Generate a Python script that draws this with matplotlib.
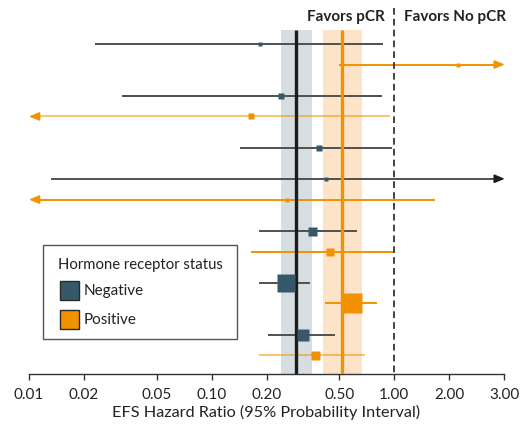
import numpy as np
import matplotlib
matplotlib.use('Agg')
import matplotlib.pyplot as plt
from matplotlib.patches import Rectangle

plt.rcParams['font.family'] = ['Lato', 'DejaVu Sans']

# ---------------- data ----------------
status = ['Negative', 'Positive', 'Negative', 'Positive', 'Negative', 'Negative', 'Positive',
          'Negative', 'Positive', 'Negative', 'Positive', 'Negative', 'Positive']
hr = [0.184, 2.24, 0.240, 0.164, 0.387, 0.423, 0.260, 0.356, 0.443, 0.255, 0.589, 0.315, 0.369]
# nan = interval extends beyond the plotted range (drawn as arrow)
ci_low = [0.0230, 0.498, 0.0323, np.nan, 0.143, 0.0132, np.nan, 0.182, 0.164, 0.182, 0.418, 0.204, 0.182]
ci_high = [0.867, np.nan, 0.856, 0.947, 0.968, np.nan, 1.67, 0.627, 0.987, 0.346, 0.807, 0.473, 0.691]
pooled_negative = [0.289, 0.240, 0.357]   # estimate, low, high
pooled_positive = [0.519, 0.409, 0.663]
xtick_values = [0.01, 0.02, 0.05, 0.10, 0.20, 0.50, 1.00, 2.00, 4.00]
xtick_labels = ['0.01', '0.02', '0.05', '0.10', '0.20', '0.50', '1.00', '2.00', '3.00']

# ---------------- layout / style ----------------
row_slot = [0, 2, 5, 7, 10, 13, 15, 18, 20, 23, 25, 28, 30]
marker_px = [4, 5, 6, 6, 6, 4, 5, 9, 8, 18, 20, 12, 9]
faded = [False, False, False, True, False, False, False, False, False, False, False, False, True]

NEG_MARK = '#35596a'
NEG_LINE = '#505050'
ORANGE = '#f39200'
GREY_BAND = '#d6dee1'
ORANGE_BAND = '#fde4c8'

W, H = 520, 424
fig = plt.figure(figsize=(W / 100, H / 100), dpi=100)
ax = fig.add_axes([29 / W, 1 - 374 / H, 475 / W, (374 - 8) / H])
ax.set_xscale('log')
XMIN, XMAX = 0.01, 4.0
YTOP, YBOT = -3.44, 31.79
ax.set_xlim(XMIN, XMAX)
ax.set_ylim(YBOT, YTOP)

band_top = -1.32
# pooled bands and lines
for (est, lo, hi), band_c, line_c in [(pooled_negative, GREY_BAND, '#1c1c1c'),
                                      (pooled_positive, ORANGE_BAND, ORANGE)]:
    ax.fill_betweenx([band_top, YBOT], lo, hi, color=band_c, lw=0, zorder=1)
    ax.plot([est, est], [band_top, YBOT], color=line_c, lw=2.4, zorder=3, solid_capstyle='butt')

# null line
ax.plot([1, 1], [YTOP, YBOT], color='#222222', lw=1.2, ls=(0, (4, 2.5)), zorder=3, clip_on=False)

ARROW = '-|>,head_length=0.6,head_width=0.25'
# study rows
for s, est, lo, hi, slot, mpx, fd in zip(status, hr, ci_low, ci_high, row_slot, marker_px, faded):
    if s == 'Negative':
        lc, mc, ac = NEG_LINE, NEG_MARK, '#1c1c1c'
    else:
        lc, mc, ac = ORANGE, ORANGE, ORANGE
    alpha = 0.55 if fd else 1.0
    lo_end = XMIN * 1.05 if np.isnan(lo) else lo
    hi_end = XMAX / 1.05 if np.isnan(hi) else hi
    ax.plot([lo_end, hi_end], [slot, slot], color=lc, lw=1.4, alpha=alpha, zorder=2,
            solid_capstyle='butt')
    if np.isnan(lo):
        ax.annotate('', xy=(XMIN, slot), xytext=(XMIN * 1.12, slot),
                    arrowprops=dict(arrowstyle=ARROW, color=ac, lw=1.2, shrinkA=0, shrinkB=0),
                    annotation_clip=False, zorder=2)
    if np.isnan(hi):
        ax.annotate('', xy=(XMAX * 1.01, slot), xytext=(XMAX / 1.12, slot),
                    arrowprops=dict(arrowstyle=ARROW, color=ac, lw=1.2, shrinkA=0, shrinkB=0),
                    annotation_clip=False, zorder=2)
    ax.plot([est], [slot], marker='s', ms=mpx * 0.72, color=mc, mec='none', zorder=4,
            linestyle='none')

# favors labels
ax.annotate('Favors pCR', xy=(1.0, -2.6), xytext=(-7, 0), textcoords='offset points',
            ha='right', va='center', fontsize=11, fontweight='bold', color='#222222')
ax.annotate('Favors No pCR', xy=(1.0, -2.6), xytext=(7, 0), textcoords='offset points',
            ha='left', va='center', fontsize=11, fontweight='bold', color='#222222')

# axes styling
for sp in ['top', 'right', 'left']:
    ax.spines[sp].set_visible(False)
ax.spines['bottom'].set_color('#333333')
ax.spines['bottom'].set_linewidth(1.0)
ax.set_yticks([])
ax.set_xticks(xtick_values)
ax.set_xticklabels(xtick_labels)
ax.xaxis.set_minor_locator(matplotlib.ticker.NullLocator())
ax.tick_params(axis='x', direction='out', length=4, width=1, color='#333333',
               labelsize=11, pad=6, labelcolor='#222222')
ax.set_xlabel('EFS Hazard Ratio (95% Probability Interval)', fontsize=11.7, color='#222222',
              labelpad=2)

# legend (drawn in figure pixel coordinates)
def fx(px):
    return px / W

def fy(py):
    return 1 - py / H

fig.patches.append(Rectangle((fx(43), fy(339)), fx(237) - fx(43), fy(245) - fy(339),
                             transform=fig.transFigure, fill=False, edgecolor='#555555', lw=1.0))
fig.text(fx(58), fy(265), 'Hormone receptor status', fontsize=10.7, ha='left', va='center',
         color='#222222')
for label, color, ytop in [('Negative', NEG_MARK, 281), ('Positive', ORANGE, 310)]:
    fig.patches.append(Rectangle((fx(59.5), fy(ytop + 19)), fx(19), fy(0) - fy(19),
                                 transform=fig.transFigure, facecolor=color,
                                 edgecolor='#2a2a2a', lw=1.0))
    fig.text(fx(83.5), fy(ytop + 10), label, fontsize=11, ha='left', va='center', color='#222222')

fig.savefig('out.png', dpi=100)
